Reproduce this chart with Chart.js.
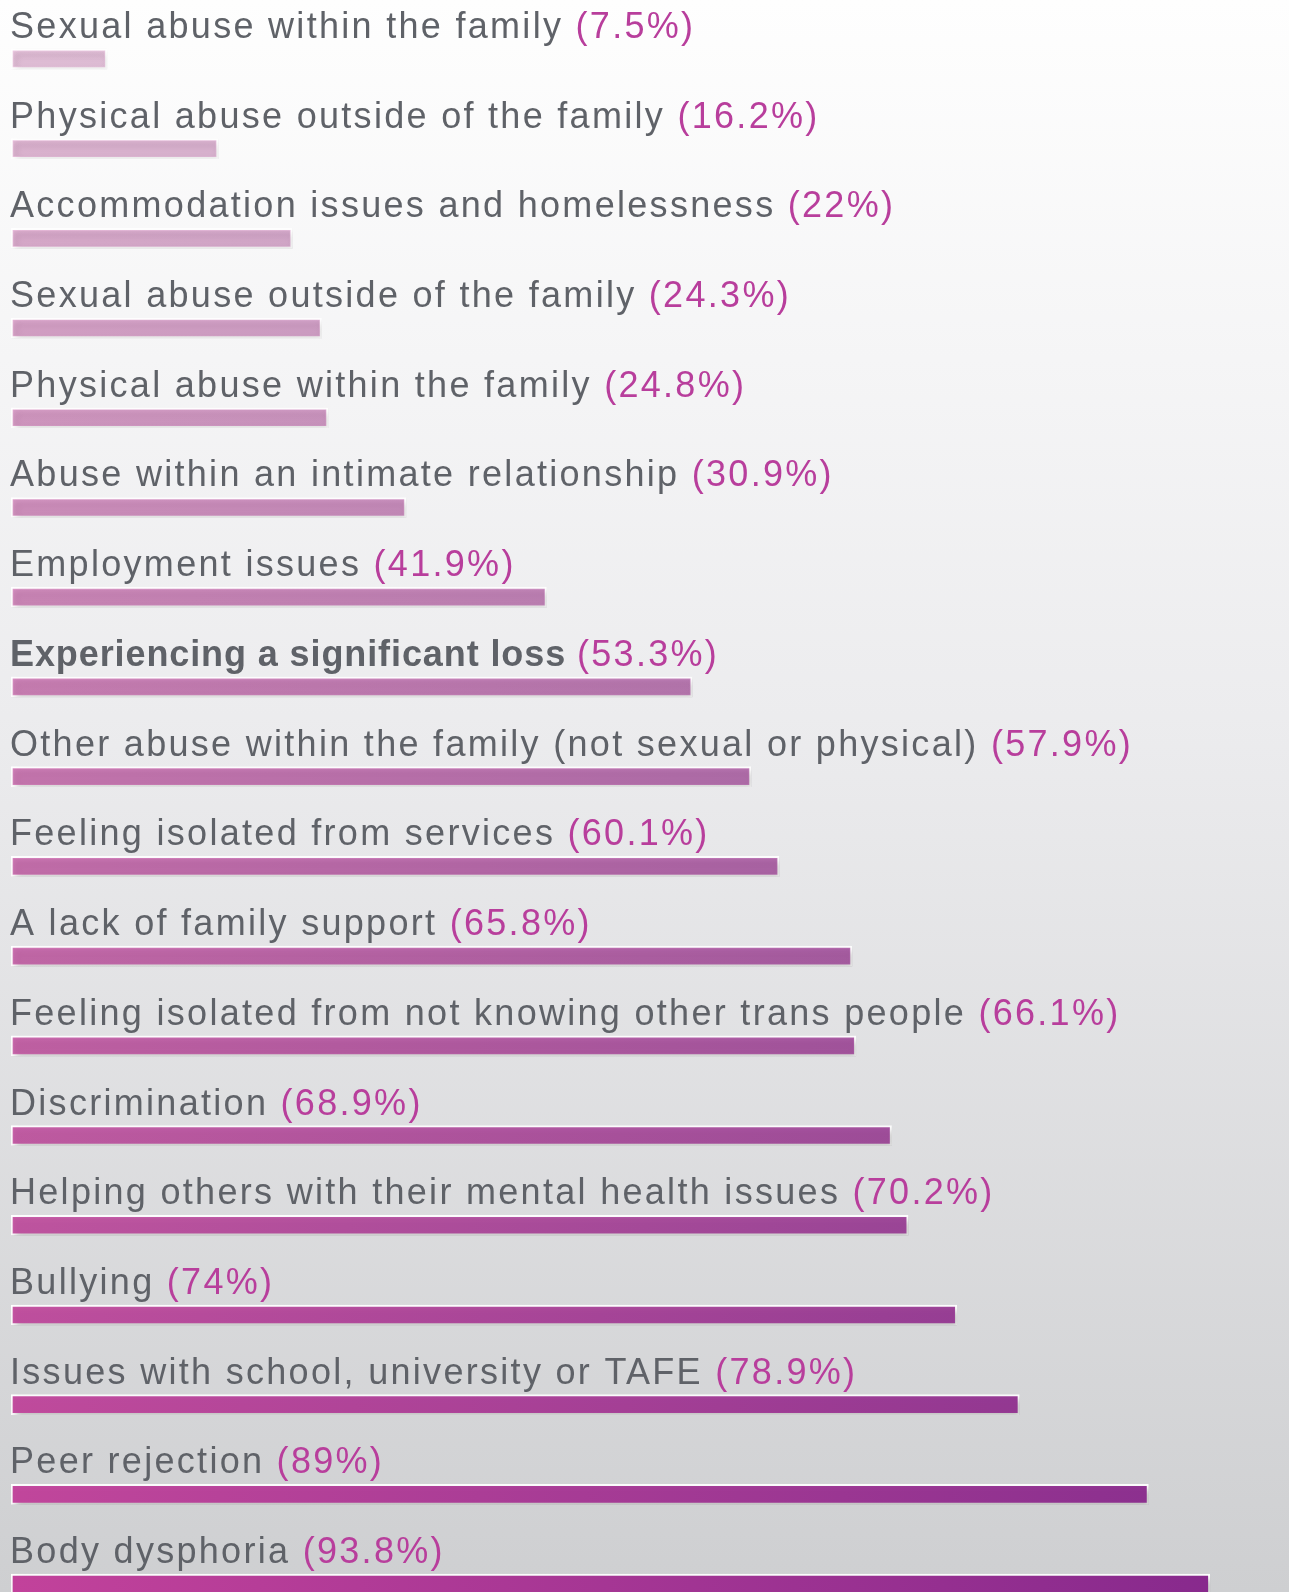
<!DOCTYPE html>
<html>
<head>
<meta charset="utf-8">
<script src="https://cdn.jsdelivr.net/npm/chart.js@4.4.1/dist/chart.umd.min.js"></script>
<style>
  html, body {
    margin: 0;
    padding: 0;
    width: 1289px;
    height: 1592px;
    overflow: hidden;
    background: linear-gradient(to bottom, #fefefe 0%, #ececee 45%, #cecfd1 100%);
  }
  #wrap {
    position: relative;
    width: 1289px;
    height: 1629px;
  }
</style>
</head>
<body>
<div id="wrap"><canvas id="stressChart"></canvas></div>
<script>
// categories, top to bottom
const categories = [
  "Sexual abuse within the family",
  "Physical abuse outside of the family",
  "Accommodation issues and homelessness",
  "Sexual abuse outside of the family",
  "Physical abuse within the family",
  "Abuse within an intimate relationship",
  "Employment issues",
  "Experiencing a significant loss",
  "Other abuse within the family (not sexual or physical)",
  "Feeling isolated from services",
  "A lack of family support",
  "Feeling isolated from not knowing other trans people",
  "Discrimination",
  "Helping others with their mental health issues",
  "Bullying",
  "Issues with school, university or TAFE",
  "Peer rejection",
  "Body dysphoria",
];

// percentages
const percentages = [
  7.5, 16.2, 22, 24.3, 24.8, 30.9, 41.9, 53.3, 57.9, 60.1, 65.8, 66.1, 68.9,
  70.2, 74, 78.9, 89, 93.8,
];

// labels printed in bold in the original
const boldCategories = ["Experiencing a significant loss"];

const labelColor = "#5f6268";
const percentColor = "#b83e9c";
const labelFont = "36px 'Liberation Sans', Arial, sans-serif";

// bar fill: pink -> purple across, paler towards the top
function barFill(context) {
  const chart = context.chart;
  const area = chart.chartArea;
  const i = context.dataIndex;
  const alpha = 0.27 + 0.73 * (i / (categories.length - 1));
  if (!area) {
    return `rgba(190,66,154,${alpha})`;
  }
  const grad = chart.ctx.createLinearGradient(area.left, 0, area.right, 0);
  grad.addColorStop(0, `rgba(194,66,155,${alpha})`);
  grad.addColorStop(1, `rgba(132,40,140,${alpha})`);
  return grad;
}

// soft drop shadow under the bars
const barShadow = {
  id: "barShadow",
  beforeDatasetsDraw(chart) {
    const ctx = chart.ctx;
    ctx.save();
    ctx.shadowColor = "rgba(0,0,0,0.28)";
    ctx.shadowBlur = 6;
    ctx.shadowOffsetX = 3;
    ctx.shadowOffsetY = 4;
  },
  afterDatasetsDraw(chart) {
    chart.ctx.restore();
  },
};

// category name + (value%) written above every bar
const rowLabels = {
  id: "rowLabels",
  afterDraw(chart) {
    const ctx = chart.ctx;
    const meta = chart.getDatasetMeta(0);
    ctx.save();
    ctx.textBaseline = "alphabetic";
    ctx.textAlign = "left";
    meta.data.forEach((bar, i) => {
      const name = categories[i];
      const bold = boldCategories.includes(name);
      const y = bar.y - 21;
      ctx.font = bold ? "bold " + labelFont : labelFont;
      ctx.letterSpacing = bold ? "0.9px" : "2.3px";
      ctx.fillStyle = labelColor;
      ctx.fillText(name, 10, y);
      const w = ctx.measureText(name + " ").width;
      ctx.font = labelFont;
      ctx.letterSpacing = "2.3px";
      ctx.fillStyle = percentColor;
      ctx.fillText(`(${percentages[i]}%)`, 10 + w, y);
    });
    ctx.restore();
  },
};

const ctx = document.getElementById("stressChart").getContext("2d");

new Chart(ctx, {
  type: "bar",
  data: {
    labels: categories,
    datasets: [
      {
        data: percentages,
        backgroundColor: barFill,
        borderColor: "#ffffff",
        borderWidth: 2,
        borderSkipped: false,
        barThickness: 20,
      },
    ],
  },
  options: {
    indexAxis: "y",
    responsive: true,
    maintainAspectRatio: false,
    animation: false,
    layout: {
      padding: { top: 14, left: 11, right: 0, bottom: 0 },
    },
    scales: {
      x: {
        display: false,
        min: 0,
        max: 100,
      },
      y: {
        display: false,
        offset: true,
      },
    },
    plugins: {
      legend: { display: false },
      tooltip: { enabled: false },
    },
  },
  plugins: [barShadow, rowLabels],
});
</script>
</body>
</html>
